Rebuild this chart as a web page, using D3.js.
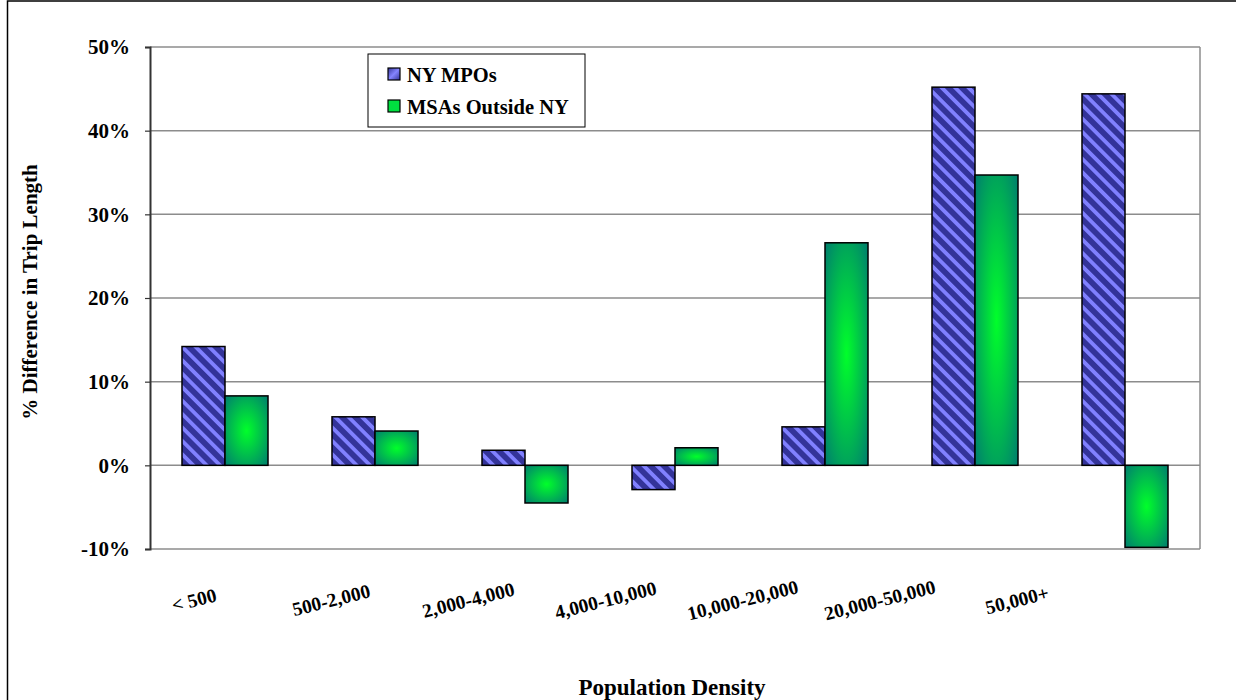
<!DOCTYPE html>
<html>
<head>
<meta charset="utf-8">
<script src="https://cdn.jsdelivr.net/npm/d3@7"></script>
<style>
  html, body { margin: 0; padding: 0; background: #fff; }
  svg { display: block; }
  svg text { font-family: "Liberation Serif", "Times New Roman", serif; font-weight: bold; fill: #000; }
</style>
</head>
<body>
<svg id="chart" width="1236" height="700"></svg>
<script>
// Population density classes (persons per square mile)
const categories = ["< 500", "500-2,000", "2,000-4,000", "4,000-10,000", "10,000-20,000", "20,000-50,000", "50,000+"];
const seriesNames = ["NY MPOs", "MSAs Outside NY"];
// % difference in average trip length
const nyMpos = [14.2, 5.8, 1.8, -2.9, 4.6, 45.2, 44.4];
const msasOutsideNy = [8.3, 4.1, -4.5, 2.1, 26.6, 34.7, -9.8];
const yTicks = [-10, 0, 10, 20, 30, 40, 50];

const svg = d3.select("#chart");
const plot = { left: 150, right: 1200, top: 47, bottom: 549 };

// outer chart frame
svg.append("rect")
  .attr("x", 7.5).attr("y", 1).attr("width", 1240).attr("height", 720)
  .attr("fill", "#fff").attr("stroke", "#000").attr("stroke-width", 1.5);

const defs = svg.append("defs");
// diagonal stripes for the NY bars
const pat = defs.append("pattern")
  .attr("id", "nyStripes").attr("patternUnits", "userSpaceOnUse")
  .attr("width", 9.5).attr("height", 9.5)
  .attr("patternTransform", "rotate(-45)");
pat.append("rect").attr("width", 9.5).attr("height", 9.5).attr("fill", "#333399");
pat.append("rect").attr("x", 0).attr("width", 3.8).attr("height", 9.5).attr("fill", "#8080ff");

// centre-out gradient for the MSA bars
const grad = defs.append("radialGradient")
  .attr("id", "msaFill").attr("cx", "50%").attr("cy", "50%").attr("r", "72%");
grad.append("stop").attr("offset", "0%").attr("stop-color", "#00ff2a");
grad.append("stop").attr("offset", "100%").attr("stop-color", "#007a70");

const legendGrad = defs.append("linearGradient")
  .attr("id", "nyLegend").attr("x1", "0").attr("y1", "0").attr("x2", "1").attr("y2", "1");
legendGrad.append("stop").attr("offset", "0%").attr("stop-color", "#333399");
legendGrad.append("stop").attr("offset", "50%").attr("stop-color", "#8585ff");
legendGrad.append("stop").attr("offset", "100%").attr("stop-color", "#333399");

const x0 = d3.scaleBand().domain(categories)
  .range([plot.left, plot.right])
  .paddingInner(64 / 150).paddingOuter(32 / 150);
const x1 = d3.scaleBand().domain(seriesNames).range([0, x0.bandwidth()]);
const y = d3.scaleLinear().domain([-10, 50]).range([plot.bottom, plot.top]);

// gridlines
svg.append("g").selectAll("line").data(yTicks.filter(t => t !== -10))
  .join("line")
  .attr("x1", plot.left).attr("x2", plot.right)
  .attr("y1", d => y(d)).attr("y2", d => y(d))
  .attr("stroke", "#8c8c8c").attr("stroke-width", 1.5);
// plot frame right/bottom
svg.append("line").attr("x1", plot.right).attr("x2", plot.right)
  .attr("y1", plot.top).attr("y2", plot.bottom).attr("stroke", "#8c8c8c").attr("stroke-width", 1.5);
svg.append("line").attr("x1", plot.left).attr("x2", plot.right)
  .attr("y1", plot.bottom).attr("y2", plot.bottom).attr("stroke", "#8c8c8c").attr("stroke-width", 1.5);

const rows = categories.map((c, i) => ({ c, vals: [nyMpos[i], msasOutsideNy[i]] }));
const groups = svg.append("g").selectAll("g").data(rows).join("g")
  .attr("transform", d => `translate(${x0(d.c)},0)`);
groups.selectAll("rect").data(d => d.vals.map((v, j) => ({ v, s: seriesNames[j] })))
  .join("rect")
  .attr("x", d => x1(d.s))
  .attr("width", x1.bandwidth())
  .attr("y", d => y(Math.max(0, d.v)))
  .attr("height", d => Math.abs(y(d.v) - y(0)))
  .attr("fill", d => d.s === seriesNames[0] ? "url(#nyStripes)" : "url(#msaFill)")
  .attr("stroke", "#000").attr("stroke-width", 1.5);

// y axis
const yAxis = svg.append("g").attr("transform", `translate(${plot.left},0)`)
  .call(d3.axisLeft(y).tickValues(yTicks).tickFormat(d => d + "%").tickSize(5).tickPadding(15));
yAxis.attr("font-family", null).attr("font-size", null);
yAxis.select(".domain").attr("stroke", "#333").attr("stroke-width", 2);
yAxis.selectAll(".tick line").attr("stroke", "#333").attr("stroke-width", 1.2);
yAxis.selectAll(".tick text")
  .attr("font-size", 21)
  .attr("fill", "#000");

// category labels, tilted
const labelPos = d3.scalePoint().domain(categories).range([194, 1017]);
svg.append("g").selectAll("text").data(categories).join("text")
  .attr("transform", d => `translate(${labelPos(d)},600) rotate(-14)`)
  .attr("text-anchor", "middle").attr("dy", "0.35em")
  .attr("font-size", 19.5).text(d => d);

// axis titles
svg.append("text")
  .attr("transform", "translate(30,292) rotate(-90)")
  .attr("text-anchor", "middle").attr("dy", "0.35em")
  .attr("font-size", 21)
  .text("% Difference in Trip Length");
svg.append("text")
  .attr("x", 672).attr("y", 687).attr("text-anchor", "middle").attr("dy", "0.35em")
  .attr("font-size", 23)
  .text("Population Density");

// legend
const legend = svg.append("g");
legend.append("rect").attr("x", 368).attr("y", 54).attr("width", 217).attr("height", 73)
  .attr("fill", "#fff").attr("stroke", "#000").attr("stroke-width", 1);
const items = legend.selectAll("g").data(seriesNames).join("g")
  .attr("transform", (d, i) => `translate(388,${68 + i * 32})`);
items.append("rect").attr("width", 12).attr("height", 12)
  .attr("fill", (d, i) => i === 0 ? "url(#nyLegend)" : "#00e040")
  .attr("stroke", "#000").attr("stroke-width", 1.2);
items.append("text").attr("x", 19).attr("y", 14)
  .attr("font-size", 20.5).text(d => d);
</script>
</body>
</html>
